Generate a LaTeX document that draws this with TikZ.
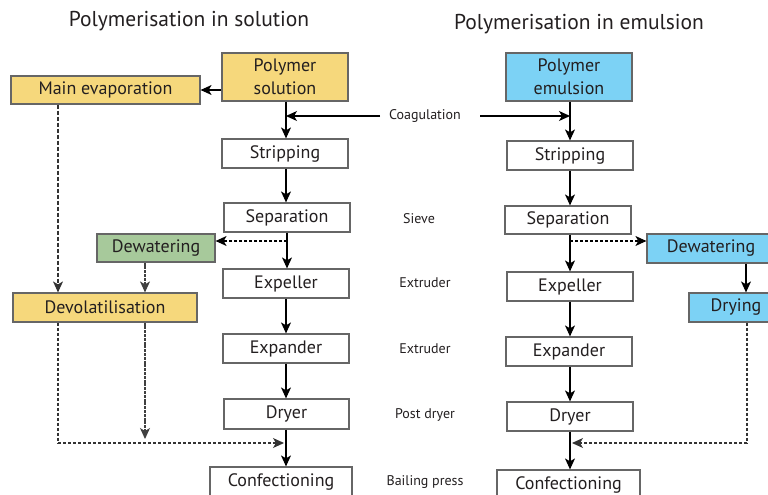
\documentclass[tikz,border=0pt]{standalone}
\usepackage{fontspec}
\setmainfont{PT Sans}
\usetikzlibrary{arrows.meta,calc}
\definecolor{yel}{HTML}{F6D87C}
\definecolor{grn}{HTML}{A7C99B}
\definecolor{blu}{HTML}{7CD2F5}
\definecolor{brd}{HTML}{666666}
\definecolor{txt}{HTML}{231F20}
\tikzset{
  box/.style={draw=brd, line width=1.2pt, fill=white, inner sep=0pt, font=\fontsize{18}{20}\selectfont, text=txt, align=center},
  lbl/.style={font=\fontsize{14}{16}\selectfont, text=txt, inner sep=0pt},
  ttl/.style={font=\fontsize{21.5}{24}\selectfont, text=txt, inner sep=0pt},
  arr/.style={line width=1.1pt, -{Stealth[length=11pt,width=10pt,inset=3pt]}},
  darr/.style={line width=1.1pt, dash pattern=on 3pt off 2pt, -{Stealth[length=11pt,width=10pt,inset=3pt]}},
  dline/.style={line width=1.1pt, dash pattern=on 3pt off 2pt},
}
\begin{document}
\begin{tikzpicture}[x=1pt,y=-1pt]
\useasboundingbox (0,0) rectangle (768,495);
\clip (0,0) rectangle (768,495);
% titles
\node[ttl] (t1) at (189,21) {Polymerisation in solution};
\node[ttl] (t2) at (579,24) {Polymerisation in emulsion};
% left column
\node[box, fill=yel, minimum width=126pt, minimum height=48pt, font=\fontsize{18}{23}\selectfont] (lps) at (285,77) {Polymer\\solution};
\node[box, fill=yel, minimum width=189pt, minimum height=28pt] (lme) at (105.5,90) {Main evaporation};
\node[box, minimum width=126pt, minimum height=29pt] (lst) at (285,153.5) {Stripping};
\node[box, minimum width=126pt, minimum height=29pt] (lse) at (287,217.5) {Separation};
\node[box, minimum width=126pt, minimum height=29pt] (lex) at (286,283.5) {Expeller};
\node[box, minimum width=126pt, minimum height=29pt] (lea) at (286,348.5) {Expander};
\node[box, minimum width=125pt, minimum height=30pt] (ldr) at (286.5,414) {Dryer};
\node[box, minimum width=142pt, minimum height=30pt] (lco) at (281,482) {Confectioning};
\node[box, fill=grn, minimum width=118pt, minimum height=28pt] (ldw) at (156,248) {Dewatering};
\node[box, fill=yel, minimum width=184pt, minimum height=29pt] (ldv) at (105,307.5) {Devolatilisation};
% right column
\node[box, fill=blu, minimum width=126pt, minimum height=48pt, font=\fontsize{18}{23}\selectfont] (rpe) at (569,77) {Polymer\\emulsion};
\node[box, minimum width=126pt, minimum height=29pt] (rst) at (570,155.5) {Stripping};
\node[box, minimum width=126pt, minimum height=28pt] (rse) at (568,220) {Separation};
\node[box, minimum width=126pt, minimum height=29pt] (rex) at (570,286.5) {Expeller};
\node[box, minimum width=126pt, minimum height=29pt] (rea) at (569,351.5) {Expander};
\node[box, minimum width=126pt, minimum height=29pt] (rdr) at (570,416.5) {Dryer};
\node[box, minimum width=143pt, minimum height=30pt] (rco) at (568.5,485) {Confectioning};
\node[box, fill=blu, minimum width=128pt, minimum height=29pt] (rdw) at (711,248.5) {Dewatering};
\node[box, fill=blu, minimum width=94pt, minimum height=29pt] (rdy) at (736,307.5) {Drying};
% middle labels
\node[lbl] (coag) at (425,116) {Coagulation};
\node[lbl] (sieve) at (419,219) {Sieve};
\node[lbl] (ext1) at (425,283) {Extruder};
\node[lbl] (ext2) at (425,349) {Extruder};
\node[lbl] (pdr) at (425,415) {Post dryer};
\node[lbl] (bail) at (425,482) {Bailing press};
% coordinates
\coordinate (lcx) at (286,116);
\coordinate (rcx) at (570,116);
\coordinate (lsb) at (287,241);
\coordinate (rsb) at (570,241);
\coordinate (ljoin) at (284,443);
\coordinate (rjoin) at (572,443);
\coordinate (lcorner) at (58,443);
\coordinate (rcorner) at (747,443);
\coordinate (lmid) at (145,0);
\coordinate (lmidend) at (145,439);
\coordinate (rmid) at (746,0);
\coordinate (coagl) at (380,116);
\coordinate (coagr) at (480,116);
% left connectors
\draw[arr] (lps.west |- lme.east) -- (lme.east);
\draw[arr] (lps.south -| lcx) -- (lst.north -| lcx);
\draw[arr] (coagl) -- (lcx);
\draw[arr] (coagr) -- (rcx);
\draw[arr] (lst.south -| lcx) -- (lse.north -| lcx);
\draw[arr] (lse.south -| lsb) -- (lex.north -| lsb);
\draw[darr] (lsb) -- (ldw.east |- lsb);
\draw[arr] (lex.south -| lcx) -- (lea.north -| lcx);
\draw[arr] (lea.south -| lcx) -- (ldr.north -| lcx);
\draw[arr] (ldr.south -| lcx) -- (lco.north -| lcx);
\draw[darr, draw=black!80, dash pattern=on 4pt off 2pt] (lme.south -| lcorner) -- (ldv.north -| lcorner);
\draw[arr, draw=black!75, dash pattern=on 3pt off 0.8pt] (ldw.south -| lmid) -- (ldv.north -| lmid);
\draw[arr, draw=black!75, dash pattern=on 3pt off 0.8pt] (ldv.south -| lmid) -- (lmidend);
\draw[dline, draw=black!80] (ldv.south -| lcorner) -- (lcorner);
\draw[darr, draw=black!80] (lcorner) -- (ljoin);
% right connectors
\draw[arr] (rpe.south -| rcx) -- (rst.north -| rcx);
\draw[arr] (rst.south -| rcx) -- (rse.north -| rcx);
\draw[arr] (rse.south -| rsb) -- (rex.north -| rsb);
\draw[darr] (rsb) -- (rdw.west |- rsb);
\draw[arr] (rex.south -| rcx) -- (rea.north -| rcx);
\draw[arr] (rea.south -| rcx) -- (rdr.north -| rcx);
\draw[arr] (rdr.south -| rcx) -- (rco.north -| rcx);
\draw[arr] (rdw.south -| rmid) -- (rdy.north -| rmid);
\draw[dline, draw=black!80] (rdy.south -| rcorner) -- (rcorner);
\draw[darr, draw=black!80] (rcorner) -- (rjoin);
\end{tikzpicture}
\end{document}
